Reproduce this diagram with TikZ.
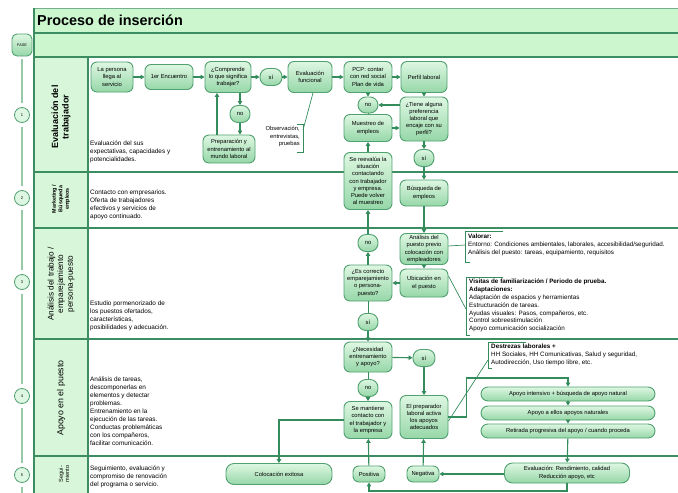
\documentclass[tikz,border=0pt]{standalone}
\usepackage{fontspec}
\setmainfont{Liberation Sans}
\usepackage{xcolor}
\usepackage{tikz}
\usetikzlibrary{arrows.meta,positioning,calc}
\definecolor{bandcolor}{RGB}{204,247,206}
\definecolor{lanecolor}{RGB}{216,247,218}
\definecolor{rulecolor}{RGB}{60,142,98}
\definecolor{boxcolor}{RGB}{80,160,112}
\definecolor{boxtop}{RGB}{222,247,226}
\definecolor{boxbottom}{RGB}{150,215,168}
\definecolor{flowcolor}{RGB}{52,140,92}
\definecolor{phasecolor}{RGB}{152,202,168}

\begin{document}
\begin{tikzpicture}[x=1pt, y=-1pt,
    flowbox/.style={draw=boxcolor, line width=0.9pt, top color=boxtop, bottom color=boxbottom, rounded corners=6pt, align=center, inner sep=1pt, font=\fontsize{5.8}{7.2}\selectfont},
    answer/.style={flowbox, rounded corners=8pt, minimum width=20pt, minimum height=17pt},
    widebox/.style={flowbox, rounded corners=7pt, minimum width=174pt, minimum height=14pt},
    arrow/.style={-{Triangle[length=4pt,width=4.5pt]}, line width=1.1pt, flowcolor},
    link/.style={line width=0.9pt, flowcolor},
    desc/.style={anchor=north west, align=left, inner sep=0pt, font=\fontsize{6.4}{8}\selectfont},
    note/.style={anchor=north west, align=left, inner sep=0pt, font=\fontsize{6.3}{7.8}\selectfont},
    lane/.style={rotate=90, align=center},
    phase/.style={circle, draw=boxcolor, line width=0.8pt, fill=boxtop, minimum size=15pt, inner sep=0pt, font=\fontsize{4}{5}\selectfont}
]
\useasboundingbox (0,0) rectangle (678,493);

% Frame
\fill[bandcolor] (34,8) rectangle (678,57);
\fill[lanecolor] (34,57) rectangle (88,493);
\draw[rulecolor!70, line width=0.8pt] (34,8) -- (678,8);
\foreach \y in {33,57,172,228,339,456}
  \draw[rulecolor, line width=1.3pt] (34,\y) -- (678,\y);
\draw[rulecolor, line width=1.3pt] (34,8) -- (34,493);
\draw[rulecolor, line width=1.3pt] (88,57) -- (88,493);
\node[anchor=west, inner sep=0pt, font=\fontsize{14.4}{16}\selectfont\bfseries] (title) at (37,20) {Proceso de inserción};

% Phases
\node[flowbox, minimum width=20pt, minimum height=22pt, rounded corners=5pt, font=\fontsize{3.8}{4}\selectfont] (fase) at (22,45) {FASE};
\foreach \n/\y in {1/115,2/198,3/282,4/396,5/475}
  \node[phase] (f\n) at (22,\y) {\n};
\coordinate (fend) at (22,493);
\draw[phasecolor, line width=1.6pt, shorten <=3pt, shorten >=4pt] (fase) -- (f1);
\foreach \a/\b in {f1/f2,f2/f3,f3/f4,f4/f5}
  \draw[phasecolor, line width=1.6pt, shorten <=4pt, shorten >=4pt] (\a) -- (\b);
\draw[phasecolor, line width=1.6pt, shorten <=4pt] (f5) -- (fend);

% Lane labels
\node[lane, font=\fontsize{9}{10.5}\selectfont\bfseries] (lane1) at (61,117) {Evaluación del\\trabajador};
\node[lane, font=\fontsize{5.4}{6.4}\selectfont\bfseries] (lane2) at (61,199) {Marketing /\\Búsqueda\\empleos};
\node[lane, font=\fontsize{8.2}{9.6}\selectfont] (lane3) at (61,284) {Análisis del trabajo /\\emparejamiento\\persona-puesto};
\node[lane, font=\fontsize{8.8}{10}\selectfont] (lane4) at (61,398) {Apoyo en el puesto};
\node[lane, font=\fontsize{5.6}{6.4}\selectfont] (lane5) at (64,474) {Segui-\\miento};

% Lane descriptions
\node[desc] (d1) at (90,141) {Evaluación del sus\\expectativas, capacidades y\\potencialidades.};
\node[desc] (d2) at (90,190) {Contacto con empresarios.\\Oferta de trabajadores\\efectivos y servicios de\\apoyo continuado.};
\node[desc] (d3) at (90,301) {Estudio pormenorizado de\\los puestos ofertados,\\características,\\posibilidades y adecuación.};
\node[desc] (d4) at (90,377) {Análisis de tareas,\\descomponerlas en\\elementos y detectar\\problemas.\\Entrenamiento en la\\ejecución de las tareas.\\Conductas problemáticas\\con los compañeros,\\facilitar comunicación.};
\node[desc] (d5) at (90,466) {Seguimiento, evaluación y\\compromiso de renovación\\del programa o servicio.};

% Evaluacion del trabajador
\node[flowbox, minimum width=42pt, minimum height=30pt] (llega) at (112,77) {La persona\\llega al\\servicio};
\node[flowbox, minimum width=48pt, minimum height=25pt] (encuentro) at (169,77) {1er Encuentro};
\node[flowbox, minimum width=46pt, minimum height=31pt] (comprende) at (228,77) {¿Comprende\\lo que significa\\trabajar?};
\node[answer, minimum width=22pt] (si1) at (271,77) {sí};
\node[flowbox, minimum width=44pt, minimum height=31pt] (funcional) at (310,77) {Evaluación\\funcional};
\node[flowbox, minimum width=48pt, minimum height=31pt] (pcp) at (368,77) {PCP: contar\\con red social\\Plan de vida};
\node[flowbox, minimum width=46pt, minimum height=31pt] (perfil) at (424,77) {Perfil laboral};
\node[answer] (no1) at (240,114) {no};
\node[flowbox, minimum width=52pt, minimum height=28pt] (prepara) at (229,149) {Preparación y\\entrenamiento al\\mundo laboral};
\node[answer, minimum height=16pt] (no2) at (368,105) {no};
\node[flowbox, minimum width=48pt, minimum height=44pt] (tiene) at (424,119) {¿Tiene alguna\\preferencia\\laboral que\\encaje con su\\perfil?};
\node[flowbox, minimum width=48pt, minimum height=27pt] (muestreo) at (368,128) {Muestreo de\\empleos};
\node[answer] (si2) at (424,158) {sí};
\node[flowbox, minimum width=48pt, minimum height=57pt] (reevalua) at (368,181) {Se reevalúa la\\situación\\contactando\\con trabajador\\y empresa.\\Puede volver\\al muestreo};
\node[anchor=north east, align=right, inner sep=0pt, font=\fontsize{5.8}{7.6}\selectfont] (obs) at (300,126) {Observación,\\entrevistas,\\pruebas};
\coordinate (obsb) at (303,130);

% Marketing
\node[flowbox, minimum width=48pt, minimum height=26pt] (busqueda) at (424,193) {Búsqueda de\\empleos};

% Analisis del trabajo
\node[flowbox, minimum width=48pt, minimum height=31pt] (analisis) at (424,249) {Análisis del\\puesto previo\\colocación con\\empleadores};
\node[flowbox, minimum width=48pt, minimum height=28pt] (ubicacion) at (424,283) {Ubicación en\\el puesto};
\node[answer] (no3) at (368,243) {no};
\node[flowbox, minimum width=48pt, minimum height=36pt] (correcto) at (368,283) {¿Es correcto\\emparejamiento\\o persona-\\puesto?};
\node[answer] (si3) at (368,322) {sí};
\node[note] (valorar) at (468,234) {\textbf{Valorar:}\\Entorno: Condiciones ambientales, laborales, accesibilidad/seguridad.\\Análisis del puesto: tareas, equipamiento, requisitos};
\node[note] (visitas) at (469,279) {\textbf{Visitas de familiarización / Periodo de prueba.}\\\textbf{Adaptaciones:}\\Adaptación de espacios y herramientas\\Estructuración de tareas.\\Ayudas visuales: Pasos, compañeros, etc.\\Control sobreestimulación\\Apoyo comunicación socialización};
\coordinate (valb) at (465,245);
\coordinate (visb) at (466,309);

% Apoyo en el puesto
\node[flowbox, minimum width=48pt, minimum height=30pt] (necesidad) at (368,357) {¿Necesidad\\entrenamiento\\y apoyo?};
\node[answer, minimum width=22pt] (si4) at (424,358) {sí};
\node[answer] (no4) at (368,388) {no};
\node[flowbox, minimum width=48pt, minimum height=37pt] (contacto) at (368,420) {Se mantiene\\contacto con\\el trabajador y\\la empresa};
\node[flowbox, minimum width=48pt, minimum height=43pt] (preparador) at (424,417) {El preparador\\laboral activa\\los apoyos\\adecuados};
\node[widebox] (intensivo) at (568,394) {Apoyo intensivo + búsqueda de apoyo natural};
\node[widebox] (naturales) at (568,413) {Apoyo a ellos apoyos naturales};
\node[widebox] (retirada) at (568,431) {Retirada progresiva del apoyo / cuando proceda};
\node[note] (destrezas) at (491,344) {\textbf{Destrezas laborales +}\\HH Sociales, HH Comunicativas, Salud y seguridad,\\Autodirección, Uso tiempo libre, etc.};
\coordinate (desb) at (488,360);
\coordinate (turn) at (568,378);

% Seguimiento
\node[flowbox, rounded corners=8pt, minimum width=106pt, minimum height=21pt] (exitosa) at (279,474) {Colocación exitosa};
\node[flowbox, minimum width=32pt, minimum height=16pt] (positiva) at (369,474) {Positiva};
\node[flowbox, minimum width=32pt, minimum height=16pt] (negativa) at (423,474) {Negativa};
\node[flowbox, rounded corners=8pt, minimum width=125pt, minimum height=20pt] (evaluacion) at (567,473) {Evaluación: Rendimiento, calidad\\Reducción apoyo, etc};
\coordinate (loop) at (567,491);

% Arrows
\draw[arrow] (llega) -- (encuentro);
\draw[arrow] (encuentro) -- (comprende);
\draw[arrow] (comprende) -- (si1);
\draw[arrow] (si1) -- (funcional);
\draw[arrow] (funcional) -- (pcp);
\draw[arrow] (pcp) -- (perfil);
\draw[arrow] (comprende.south -| no1) -- (no1);
\draw[arrow] (no1) -- (prepara.north -| no1);
\draw[arrow] ([xshift=-12pt]prepara.north) -- ([xshift=-11pt]comprende.south);
\draw[arrow] (pcp) -- (no2);
\draw[link] (no2) -- (muestreo);
\draw[arrow] (no2 -| tiene.west) -- (no2);
\draw[arrow] (muestreo.east) -- (muestreo.east -| tiene.west);
\draw[arrow] (perfil) -- (tiene);
\draw[arrow] (tiene) -- (si2);
\draw[arrow] (si2) -- (busqueda);
\draw[arrow] (reevalua) -- (muestreo);
\draw[arrow] (busqueda) -- (analisis);
\draw[arrow] (analisis) -- (ubicacion);
\draw[arrow] (ubicacion) -- (correcto);
\draw[arrow] (correcto) -- (no3);
\draw[arrow] (no3) -- (reevalua);
\draw[link] (correcto) -- (si3);
\draw[arrow] (si3) -- (necesidad);
\draw[arrow] (necesidad) -- (si4);
\draw[arrow] (si4) -- (preparador);
\draw[link] (necesidad) -- (no4);
\draw[arrow] (no4) -- (contacto);
\draw[arrow] (preparador.east) -- ++(18,0) |- (turn) -- (intensivo.north);
\draw[arrow] (intensivo) -- (naturales);
\draw[arrow] (naturales) -- (retirada);
\draw[arrow] (retirada) -- (evaluacion);
\draw[arrow] (evaluacion.west |- negativa) -- (negativa);
\draw[arrow] (evaluacion.south) -- (loop) -| (positiva.south);
\draw[arrow] (positiva) -- (contacto);
\draw[arrow] (negativa) -- (preparador);
\draw[arrow] (contacto.west) -| (exitosa.north);

% Brackets
\draw[link, line width=0.7pt] (297,124) -- (303,124) -- (303,152) -- (297,152);
\draw[link, line width=0.7pt] ([xshift=3pt]funcional.south) -- (obsb);
\draw[link, line width=0.7pt] (503,231) -- (465,231) -- (465,262) -- (470,262);
\draw[link, line width=0.7pt] ([yshift=3pt]analisis.east) -- (valb);
\draw[link, line width=0.7pt] (503,277) -- (466,277) -- (466,335) -- (470,335);
\draw[link, line width=0.7pt] ([yshift=7pt]ubicacion.east) -- (visb);
\draw[link, line width=0.7pt] (526,342) -- (488,342) -- (488,368) -- (492,368);
\draw[link, line width=0.7pt] ([yshift=-4pt]preparador.east) -- (desb);
\end{tikzpicture}
\end{document}
